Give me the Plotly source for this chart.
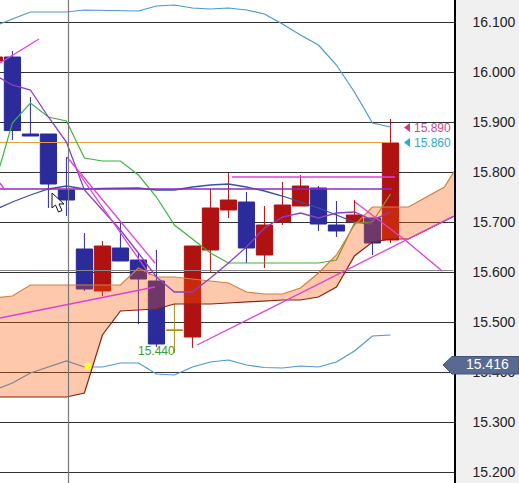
import plotly.graph_objects as go

# Candles: index, open, high, low, close
idx = list(range(-1, 22))
opens = [16.023, 16.031, 15.877, 15.877, 15.765, 15.647, 15.563, 15.649, 15.625, 15.583, 15.484,
         15.471, 15.645, 15.725, 15.741, 15.635, 15.701, 15.733, 15.769, 15.695, 15.701, 15.709, 15.665]
highs = [16.031, 16.043, 15.951, 15.877, 15.831, 15.679, 15.663, 15.701, 15.639, 15.645, 15.537,
         15.653, 15.767, 15.799, 15.761, 15.733, 15.781, 15.795, 15.773, 15.743, 15.745, 15.709, 15.907]
lows = [16.023, 15.865, 15.873, 15.729, 15.713, 15.563, 15.553, 15.623, 15.497, 15.451, 15.439,
        15.449, 15.599, 15.709, 15.619, 15.609, 15.695, 15.733, 15.683, 15.671, 15.693, 15.635, 15.659]
closes = [16.031, 15.884, 15.873, 15.777, 15.745, 15.567, 15.653, 15.623, 15.587, 15.457, 15.485,
          15.653, 15.729, 15.745, 15.649, 15.695, 15.735, 15.773, 15.697, 15.683, 15.715, 15.659, 15.859]
DOJI = 9

cloud_x = list(range(-1, 26))
cloud_upper = [15.549, 15.553, 15.575, 15.575, 15.575, 15.575, 15.575, 15.575, 15.609, 15.591, 15.591,
               15.587, 15.583, 15.579, 15.561, 15.557, 15.557, 15.569, 15.599, 15.635, 15.695, 15.731,
               15.731, 15.731, 15.751, 15.771, 15.829]
cloud_lower = [15.351, 15.351, 15.351, 15.351, 15.351, 15.359, 15.475, 15.523, 15.525, 15.527, 15.537,
               15.537, 15.537, 15.539, 15.541, 15.543, 15.545, 15.545, 15.551, 15.571, 15.633, 15.661,
               15.667, 15.667, 15.685, 15.703, 15.721]

band_upper = [16.093, 16.107, 16.121, 16.121, 16.121, 16.125, 16.124, 16.123, 16.123, 16.133, 16.135,
              16.129, 16.127, 16.129, 16.125, 16.117, 16.097, 16.075, 16.055, 16.015, 15.961, 15.899, 15.891]
band_lower = [15.365, 15.379, 15.399, 15.411, 15.423, 15.411, 15.411, 15.419, 15.419, 15.397, 15.395,
              15.411, 15.421, 15.425, 15.415, 15.41, 15.409, 15.413, 15.411, 15.421, 15.443, 15.473, 15.475]
band_mid = [15.725, 15.741, 15.755, 15.767, 15.773, 15.767, 15.768, 15.769, 15.769, 15.765, 15.765,
            15.771, 15.775, 15.777, 15.771, 15.763, 15.753, 15.741, 15.729, 15.715, 15.701, 15.697]
green = [15.775, 15.899, 15.939, 15.911, 15.903, 15.829, 15.823, 15.823, 15.795, 15.751, 15.695,
         15.667, 15.639, 15.619, 15.619, 15.619, 15.619, 15.619, 15.619, 15.625, 15.699, 15.701, 15.757]
purple = [15.995, 15.975, 15.965, 15.911, 15.861, 15.765, 15.725, 15.685, 15.639, 15.591, 15.561,
          15.561, 15.589, 15.619, 15.651, 15.689, 15.711, 15.719, 15.709, 15.719, 15.721, 15.705, 15.721]

trend_lines = [
    ([-0.69, 1.48], [16.019, 16.067]),
    ([-0.69, -0.41], [15.779, 15.765]),
    ([3.03, 7.92], [15.831, 15.619]),
    ([3.64, 7.64], [15.801, 15.595]),
    ([-0.69, 7.92], [15.509, 15.571]),
    ([10.26, 24.53], [15.455, 15.713]),
    ([12.2, 21.25], [15.791, 15.791]),
    ([19.03, 21.81, 23.87], [15.741, 15.665, 15.603]),
]
purple_level = ([-0.69, 21.09], [15.767, 15.767])
orange_level = ([-0.69, 20.98], [15.86, 15.86])
gray_level = ([-0.69, 24.48], [15.604, 15.604])
marker_point = ([4.2], [15.413])

tick_vals = [15.2, 15.3, 15.4, 15.5, 15.6, 15.7, 15.8, 15.9, 16.0, 16.1]
tick_text = ["15.200", "15.300", "15.400", "15.500", "15.600", "15.700", "15.800", "15.900", "16.000", "16.100"]

W, H = 519, 483
PW = 454


def px(x):
    return x / PW


def py(y):
    return 1 - y / H


def path(points):
    return "M " + " L ".join(f"{px(a):.5f} {py(b):.5f}" for a, b in points) + " Z"


fig = go.Figure()

keep = [i for i in range(len(idx)) if idx[i] != DOJI]
pick = lambda a, ii: [a[i] for i in ii]
fig.add_trace(go.Candlestick(
    x=pick(idx, keep), open=pick(opens, keep), high=pick(highs, keep), low=pick(lows, keep), close=pick(closes, keep),
    increasing=dict(line=dict(color="#b01212", width=1), fillcolor="#b01212"),
    decreasing=dict(line=dict(color="#2b2b9b", width=1), fillcolor="#2b2b9b"),
    whiskerwidth=0, hoverinfo="skip", showlegend=False))
dj = [idx.index(DOJI)]
fig.add_trace(go.Candlestick(
    x=pick(idx, dj), open=pick(opens, dj), high=pick(highs, dj), low=pick(lows, dj), close=pick(closes, dj),
    increasing=dict(line=dict(color="#a89020", width=1), fillcolor="#a89020"),
    decreasing=dict(line=dict(color="#a89020", width=1), fillcolor="#a89020"),
    whiskerwidth=0, hoverinfo="skip", showlegend=False))


def line(x, y, color, width=1.2, mode="lines", **kw):
    fig.add_trace(go.Scatter(x=x, y=y, mode=mode, line=dict(color=color, width=width),
                             hoverinfo="skip", showlegend=False, **kw))


line(*gray_level, "#8a8a8a", 1)
line(*orange_level, "#e6a23c", 1.2)
line(idx, band_upper, "#4a98d0", 1.2)
line(idx, band_lower, "#4a98d0", 1.2)
line(idx[:len(band_mid)], band_mid, "#3a50a8", 1.3)
line(idx[:-1], green[:-1], "#3cb43c", 1.2)
line(idx[-2:], green[-2:], "#8a9a30", 1.2)

# Cloud sits above these marks and tints them
fig.add_trace(go.Scatter(x=cloud_x, y=cloud_lower, mode="lines", line=dict(color="#8a2010", width=1.2),
                         hoverinfo="skip", showlegend=False))
fig.add_trace(go.Scatter(x=cloud_x, y=cloud_upper, mode="lines", line=dict(color="#d08040", width=1.2),
                         fill="tonexty", fillcolor="rgba(248,88,0,0.33)",
                         hoverinfo="skip", showlegend=False))

line(*purple_level, "#8a2cc0", 1.3)
line(idx, purple, "#8a3fc8", 1.3)
for tx, ty in trend_lines:
    line(tx, ty, "#e040d8", 1.3)
fig.add_trace(go.Scatter(x=marker_point[0], y=marker_point[1], mode="markers",
                         marker=dict(color="#ffff30", size=7), hoverinfo="skip", showlegend=False))

shapes = [
    # crosshair
    dict(type="line", xref="paper", yref="paper", x0=px(68.5), x1=px(68.5), y0=0, y1=1,
         line=dict(color="#777777", width=1.2), layer="above"),
    # mouse pointer
    dict(type="path", xref="paper", yref="paper",
         path=path([(52, 193), (52, 208), (55.5, 205), (58.5, 212), (62, 210.5), (59, 204), (64, 204)]),
         fillcolor="white", line=dict(color="#111111", width=1), layer="above"),
    # level flags
    dict(type="path", xref="paper", yref="paper", path=path([(404, 127.5), (410, 123), (410, 132)]),
         fillcolor="#d8386e", line=dict(width=0), layer="above"),
    dict(type="path", xref="paper", yref="paper", path=path([(404, 142.5), (410, 138), (410, 147)]),
         fillcolor="#18b0d8", line=dict(width=0), layer="above"),
    # price tag
    dict(type="path", xref="paper", yref="paper",
         path=path([(443, 365), (452, 356.5), (519, 356.5), (519, 374), (452, 374)]),
         fillcolor="#586a90", line=dict(color="#43527a", width=1), layer="above"),
]

label_font = "Liberation Sans"
narrow = "Liberation Sans Narrow, " + label_font
annotations = [
    dict(text="15.890", xref="paper", yref="y", x=px(411.5), y=15.89, xanchor="left", yanchor="middle", showarrow=False,
         font=dict(family=label_font, size=12, color="#c85080")),
    dict(text="15.860", xref="paper", yref="y", x=px(411.5), y=15.86, xanchor="left", yanchor="middle", showarrow=False,
         font=dict(family=label_font, size=12, color="#30a8c8")),
    dict(text="15.440", xref="paper", yref="y", x=px(136), y=15.4425, xanchor="left", yanchor="middle", showarrow=False,
         font=dict(family=label_font, size=12, color="#3a9a3a")),
    dict(text="15.416", xref="paper", yref="y", x=px(487), y=15.418, xanchor="center", yanchor="middle", showarrow=False,
         font=dict(family=narrow, size=14, color="#ffffff")),
]

fig.update_layout(
    width=W, height=H, autosize=False,
    margin=dict(l=0, r=W - PW, t=0, b=0, pad=0),
    paper_bgcolor="#f0f0f0", plot_bgcolor="#ffffff",
    boxgap=0.1, boxgroupgap=0, showlegend=False,
    shapes=shapes, annotations=annotations,
    xaxis=dict(range=[-0.689, 24.53], showgrid=False, zeroline=False, showticklabels=False, ticks="",
               rangeslider=dict(visible=False)),
    yaxis=dict(range=[15.179, 16.145], side="right", tickmode="array", tickvals=tick_vals, ticktext=tick_text,
               showgrid=True, gridcolor="#333333", gridwidth=1.2, zeroline=False,
               showline=True, linecolor="#000000", linewidth=1.5,
               ticks="outside", ticklen=14, tickcolor="#f0f0f0", tickwidth=1,
               tickfont=dict(family=narrow, size=14, color="#222222")),
)

fig.write_html("out.html", config={"displayModeBar": False},
               post_script="document.body.style.margin='0';document.body.style.overflow='hidden';")
